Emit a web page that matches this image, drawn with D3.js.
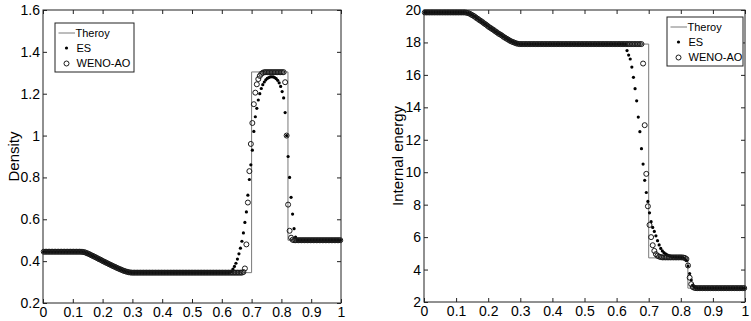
<!DOCTYPE html>
<html>
<head>
<meta charset="utf-8">
<script src="https://cdnjs.cloudflare.com/ajax/libs/d3/7.8.5/d3.min.js"></script>
<style>
    body { margin: 0; background: #fff; }
    svg text { font-family: Arial, "Liberation Sans", sans-serif; fill: #000; }
</style>
</head>
<body>
<svg id="chart" width="751" height="321"></svg>
<script>
/*
----------------------------------------------------
    Data
----------------------------------------------------
*/
// number of cells of the numerical solutions, markers sit at cell centres
const nCells = 200;

const xTicks = [0, 0.1, 0.2, 0.3, 0.4, 0.5, 0.6, 0.7, 0.8, 0.9, 1];
const rhoTicks = [0.2, 0.4, 0.6, 0.8, 1, 1.2, 1.4, 1.6];
const eTicks = [2, 4, 6, 8, 10, 12, 14, 16, 18, 20];
const legendLabels = ["Theroy", "ES", "WENO-AO"];

// exact solution breakpoints
const theoryX   = [0, .13, .15, .17, .19, .21, .23, .25, .27, .29, .30, .70, .70, .822, .822, 1];
const theoryRho = [.445, .445, .436, .425, .413, .400, .386, .372, .359, .349, .345, .345, 1.304, 1.304, .5, .5];
const theoryE   = [19.85, 19.85, 19.68, 19.47, 19.24, 18.98, 18.71, 18.44, 18.19, 17.99, 17.90, 17.90, 4.72, 4.72, 2.855, 2.855];

// density, ES scheme
const esRho = [
    .445, .445, .445, .445, .445, .445, .445, .445, .445, .445, .445, .445, .445, .445, .445, .445, .445, .445, .445, .445,
    .445, .445, .445, .445, .445, .445, .444, .443, .441, .438, .435, .432, .428, .425, .421, .418, .414, .410, .407, .403,
    .399, .396, .392, .389, .385, .382, .378, .375, .372, .368, .365, .362, .359, .356, .353, .351, .349, .347, .346, .345,
    .345, .345, .345, .345, .345, .345, .345, .345, .345, .345, .345, .345, .345, .345, .345, .345, .345, .345, .345, .345,
    .345, .345, .345, .345, .345, .345, .345, .345, .345, .345, .345, .345, .345, .345, .345, .345, .345, .345, .345, .345,
    .345, .345, .345, .345, .345, .345, .345, .345, .345, .345, .345, .345, .345, .345, .345, .345, .345, .345, .345, .345,
    .345, .345, .345, .345, .345, .347, .352, .362, .375, .390, .410, .435, .462, .495, .535, .585, .635, .715, .790, .860,
    .930, 1.020, 1.090, 1.130, 1.170, 1.200, 1.225, 1.243, 1.256, 1.266, 1.273, 1.277, 1.280, 1.281, 1.280, 1.277, 1.272, 1.264, 1.252, 1.235,
    1.210, 1.180, 1.110, 1.000, .900, .800, .705, .625, .555, .515, .502, .5, .5, .5, .5, .5, .5, .5, .5, .5,
    .5, .5, .5, .5, .5, .5, .5, .5, .5, .5, .5, .5, .5, .5, .5, .5, .5, .5, .5, .5
];

// density, WENO-AO scheme
const wenoRho = [
    .445, .445, .445, .445, .445, .445, .445, .445, .445, .445, .445, .445, .445, .445, .445, .445, .445, .445, .445, .445,
    .445, .445, .445, .445, .445, .445, .444, .443, .441, .438, .435, .432, .428, .425, .421, .418, .414, .410, .407, .403,
    .399, .396, .392, .389, .385, .382, .378, .375, .372, .368, .365, .362, .359, .356, .353, .351, .349, .347, .346, .345,
    .345, .345, .345, .345, .345, .345, .345, .345, .345, .345, .345, .345, .345, .345, .345, .345, .345, .345, .345, .345,
    .345, .345, .345, .345, .345, .345, .345, .345, .345, .345, .345, .345, .345, .345, .345, .345, .345, .345, .345, .345,
    .345, .345, .345, .345, .345, .345, .345, .345, .345, .345, .345, .345, .345, .345, .345, .345, .345, .345, .345, .345,
    .345, .345, .345, .345, .345, .345, .345, .345, .345, .345, .345, .345, .345, .345, .348, .365, .480, .680, .830, .960,
    1.060, 1.150, 1.205, 1.245, 1.270, 1.285, 1.295, 1.300, 1.303, 1.303, 1.303, 1.303, 1.303, 1.303, 1.303, 1.303, 1.303, 1.303, 1.303, 1.303,
    1.303, 1.303, 1.255, 1.000, .670, .545, .512, .502, .5, .5, .5, .5, .5, .5, .5, .5, .5, .5, .5, .5,
    .5, .5, .5, .5, .5, .5, .5, .5, .5, .5, .5, .5, .5, .5, .5, .5, .5, .5, .5, .5
];

// internal energy, ES scheme
const esE = [
    19.85, 19.85, 19.85, 19.85, 19.85, 19.85, 19.85, 19.85, 19.85, 19.85, 19.85, 19.85, 19.85, 19.85, 19.85, 19.85, 19.85, 19.85, 19.85, 19.85,
    19.85, 19.85, 19.85, 19.85, 19.85, 19.85, 19.83, 19.81, 19.77, 19.71, 19.66, 19.60, 19.52, 19.46, 19.38, 19.32, 19.25, 19.17, 19.11, 19.03,
    18.95, 18.89, 18.82, 18.76, 18.68, 18.62, 18.54, 18.49, 18.43, 18.35, 18.29, 18.23, 18.17, 18.11, 18.06, 18.02, 17.98, 17.94, 17.92, 17.90,
    17.9, 17.9, 17.9, 17.9, 17.9, 17.9, 17.9, 17.9, 17.9, 17.9, 17.9, 17.9, 17.9, 17.9, 17.9, 17.9, 17.9, 17.9, 17.9, 17.9,
    17.9, 17.9, 17.9, 17.9, 17.9, 17.9, 17.9, 17.9, 17.9, 17.9, 17.9, 17.9, 17.9, 17.9, 17.9, 17.9, 17.9, 17.9, 17.9, 17.9,
    17.9, 17.9, 17.9, 17.9, 17.9, 17.9, 17.9, 17.9, 17.9, 17.9, 17.9, 17.9, 17.9, 17.9, 17.9, 17.9, 17.9, 17.9, 17.9, 17.9,
    17.9, 17.9, 17.9, 17.9, 17.9, 17.88, 17.50, 17.22, 16.98, 16.48, 15.85, 15.15, 14.40, 13.40, 12.50, 11.45, 10.50, 9.50, 8.75, 8.20,
    7.50, 6.95, 6.60, 6.35, 6.08, 5.78, 5.52, 5.30, 5.15, 5.04, 4.97, 4.90, 4.86, 4.83, 4.80, 4.78, 4.77, 4.76, 4.76, 4.75,
    4.74, 4.72, 4.66, 4.55, 4.22, 3.75, 3.35, 3.04, 2.92, 2.88, 2.86, 2.855, 2.855, 2.855, 2.855, 2.855, 2.855, 2.855, 2.855, 2.855,
    2.855, 2.855, 2.855, 2.855, 2.855, 2.855, 2.855, 2.855, 2.855, 2.855, 2.855, 2.855, 2.855, 2.855, 2.855, 2.855, 2.855, 2.855, 2.855, 2.855
];

// internal energy, WENO-AO scheme
const wenoE = [
    19.85, 19.85, 19.85, 19.85, 19.85, 19.85, 19.85, 19.85, 19.85, 19.85, 19.85, 19.85, 19.85, 19.85, 19.85, 19.85, 19.85, 19.85, 19.85, 19.85,
    19.85, 19.85, 19.85, 19.85, 19.85, 19.85, 19.83, 19.81, 19.77, 19.71, 19.66, 19.60, 19.52, 19.46, 19.38, 19.32, 19.25, 19.17, 19.11, 19.03,
    18.95, 18.89, 18.82, 18.76, 18.68, 18.62, 18.54, 18.49, 18.43, 18.35, 18.29, 18.23, 18.17, 18.11, 18.06, 18.02, 17.98, 17.94, 17.92, 17.90,
    17.9, 17.9, 17.9, 17.9, 17.9, 17.9, 17.9, 17.9, 17.9, 17.9, 17.9, 17.9, 17.9, 17.9, 17.9, 17.9, 17.9, 17.9, 17.9, 17.9,
    17.9, 17.9, 17.9, 17.9, 17.9, 17.9, 17.9, 17.9, 17.9, 17.9, 17.9, 17.9, 17.9, 17.9, 17.9, 17.9, 17.9, 17.9, 17.9, 17.9,
    17.9, 17.9, 17.9, 17.9, 17.9, 17.9, 17.9, 17.9, 17.9, 17.9, 17.9, 17.9, 17.9, 17.9, 17.9, 17.9, 17.9, 17.9, 17.9, 17.9,
    17.9, 17.9, 17.9, 17.9, 17.9, 17.9, 17.9, 17.9, 17.9, 17.9, 17.9, 17.9, 17.9, 17.9, 17.9, 17.9, 16.7, 12.9, 9.9, 7.9,
    6.75, 6.0, 5.5, 5.15, 4.95, 4.85, 4.80, 4.77, 4.75, 4.75, 4.75, 4.75, 4.75, 4.75, 4.75, 4.75, 4.75, 4.75, 4.75, 4.75,
    4.75, 4.74, 4.72, 4.65, 4.25, 3.50, 3.10, 2.92, 2.87, 2.855, 2.855, 2.855, 2.855, 2.855, 2.855, 2.855, 2.855, 2.855, 2.855, 2.855,
    2.855, 2.855, 2.855, 2.855, 2.855, 2.855, 2.855, 2.855, 2.855, 2.855, 2.855, 2.855, 2.855, 2.855, 2.855, 2.855, 2.855, 2.855, 2.855, 2.855
];

/*
----------------------------------------------------
    Drawing
----------------------------------------------------
*/
var svg = d3.select("#chart");

// cell centres of the grid
var xGrid = d3.range(nCells).map(i => (i + 0.5) / nCells);

function drawPanel(opts) {
    var x = d3.scaleLinear().domain([0, 1]).range([opts.left, opts.right]);
    var y = d3.scaleLinear().domain(opts.yDomain).range([opts.bottom, opts.top]);
    var g = svg.append("g");

    // inward ticks on all four sides, like matlab
    g.append("g")
        .attr("transform", "translate(0," + opts.bottom + ")")
        .call(d3.axisBottom(x).tickValues(xTicks).tickSize(-4).tickPadding(4).tickFormat(d => String(d)));
    g.append("g")
        .attr("transform", "translate(0," + opts.top + ")")
        .call(d3.axisTop(x).tickValues(xTicks).tickSize(-4).tickFormat(""));
    g.append("g")
        .attr("transform", "translate(" + opts.left + ",0)")
        .call(d3.axisLeft(y).tickValues(opts.yTicks).tickSize(-4).tickPadding(3).tickFormat(d => String(d)));
    g.append("g")
        .attr("transform", "translate(" + opts.right + ",0)")
        .call(d3.axisRight(y).tickValues(opts.yTicks).tickSize(-4).tickFormat(""));

    g.selectAll(".domain").remove();
    g.selectAll(".tick line").attr("stroke", "#222");
    g.selectAll(".tick text").style("font-size", "14px").attr("fill", "#000");

    // axes box
    g.append("rect")
        .attr("x", opts.left)
        .attr("y", opts.top)
        .attr("width", opts.right - opts.left)
        .attr("height", opts.bottom - opts.top)
        .attr("fill", "none")
        .attr("stroke", "#222")
        .attr("stroke-width", 1);

    // y label
    g.append("text")
        .attr("transform", "translate(" + opts.labelX + "," + ((opts.top + opts.bottom) / 2) + ") rotate(-90)")
        .attr("text-anchor", "middle")
        .style("font-size", "15px")
        .text(opts.yLabel);

    // exact solution
    var line = d3.line().x((d, i) => x(theoryX[i])).y(d => y(d));
    g.append("path")
        .datum(opts.theory)
        .attr("d", line)
        .attr("fill", "none")
        .attr("stroke", "#7a7a7a")
        .attr("stroke-width", 1);

    // ES dots
    g.selectAll(".es")
        .data(opts.es)
        .enter()
        .append("circle")
        .attr("class", "es")
        .attr("cx", (d, i) => x(xGrid[i]))
        .attr("cy", d => y(d))
        .attr("r", 1.6)
        .attr("fill", "#000");

    // WENO-AO circles
    g.selectAll(".weno")
        .data(opts.weno)
        .enter()
        .append("circle")
        .attr("class", "weno")
        .attr("cx", (d, i) => x(xGrid[i]))
        .attr("cy", d => y(d))
        .attr("r", 2.5)
        .attr("fill", "none")
        .attr("stroke", "#1a1a1a")
        .attr("stroke-width", 1);

    // legend
    var lg = g.append("g").attr("transform", "translate(" + opts.legend[0] + "," + opts.legend[1] + ")");
    lg.append("rect")
        .attr("width", opts.legend[2])
        .attr("height", 49)
        .attr("fill", "#fff")
        .attr("stroke", "#222")
        .attr("stroke-width", 1);
    var rows = [10, 25, 40.5];
    lg.append("line")
        .attr("x1", 3.5).attr("x2", 20)
        .attr("y1", rows[0]).attr("y2", rows[0])
        .attr("stroke", "#7a7a7a");
    lg.append("circle")
        .attr("cx", 11.5).attr("cy", rows[1]).attr("r", 1.6).attr("fill", "#000");
    lg.append("circle")
        .attr("cx", 11.5).attr("cy", rows[2]).attr("r", 2.5)
        .attr("fill", "none").attr("stroke", "#1a1a1a").attr("stroke-width", 1);
    legendLabels.forEach((d, i) => {
        lg.append("text")
            .attr("x", i == 0 ? 20.5 : 21.5)
            .attr("y", rows[i])
            .attr("dy", "0.36em")
            .style("font-size", "11px")
            .text(d);
    });
}

drawPanel({
    left: 43, right: 341, top: 10, bottom: 303,
    yDomain: [0.2, 1.6], yTicks: rhoTicks,
    yLabel: "Density", labelX: 19,
    theory: theoryRho, es: esRho, weno: wenoRho,
    legend: [55, 23, 79]
});

drawPanel({
    left: 424, right: 745, top: 10, bottom: 302,
    yDomain: [2, 20], yTicks: eTicks,
    yLabel: "Internal energy", labelX: 403,
    theory: theoryE, es: esE, weno: wenoE,
    legend: [667, 17, 76]
});
</script>
</body>
</html>
